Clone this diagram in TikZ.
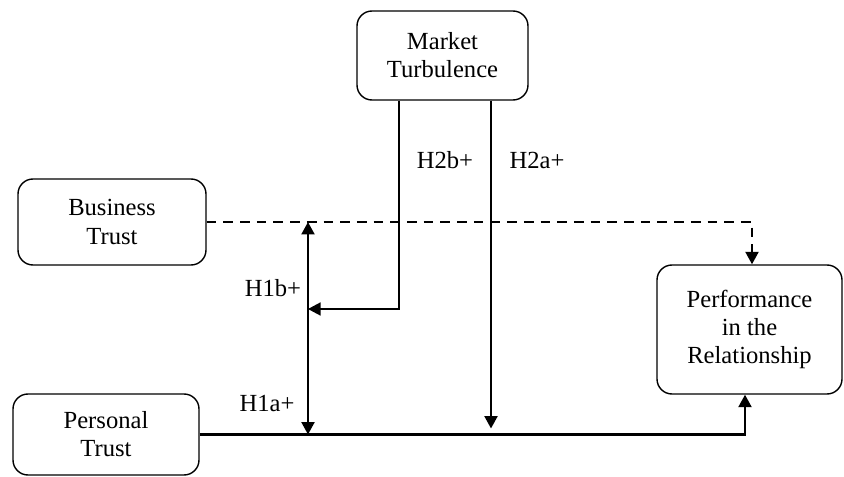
\documentclass[tikz,border=0pt]{standalone}
\usepackage{fontspec}
\setmainfont{Liberation Serif}
\usetikzlibrary{arrows.meta}

\begin{document}
\begin{tikzpicture}[
    >={Triangle[length=0.25cm,width=0.26cm]},
    box/.style={draw, rounded corners=0.3cm, line width=0.8pt, align=center,
      font=\fontsize{14}{16}\selectfont},
    link/.style={line width=1.3pt, ->},
    lbl/.style={font=\fontsize{14}{16}\selectfont}
  ]
    \useasboundingbox (0,0) rectangle (16.88,9.52);
    % the four constructs
    \node[box, minimum width=3.42cm, minimum height=1.78cm] (market) at (8.85,8.41) {Market\\Turbulence};
    \node[box, minimum width=3.76cm, minimum height=1.72cm] (business) at (2.24,5.08) {Business\\Trust};
    \node[box, minimum width=3.72cm, minimum height=1.62cm] (personal) at (2.12,0.83) {Personal\\Trust};
    \node[box, minimum width=3.7cm, minimum height=2.58cm] (perf) at (14.99,2.93) {Performance\\in the\\Relationship};

    \coordinate (h1top) at (6.16,5.08);
    \coordinate (h1bot) at (6.16,0.83);
    \coordinate (h1mid) at (6.16,3.34);
    \coordinate (h2end) at (9.82,0.95);

    \draw[link] (personal.east) -| ([xshift=-0.09cm]perf.south);
    \draw[link, dash pattern=on 5.5pt off 4pt] (business.east) -| ([xshift=0.05cm]perf.north);
    \draw[link, <->] (h1bot) -- (h1top);
    \draw[line width=0.8pt, ->] ([xshift=-0.87cm]market.south) |- (h1mid);
    \draw[link] ([xshift=0.97cm]market.south) -- (h2end);

    % hypothesis labels
    \node[lbl] (h2b) at (8.9,6.32) {H2b+};
    \node[lbl] (h2a) at (10.74,6.32) {H2a+};
    \node[lbl] (h1b) at (5.46,3.76) {H1b+};
    \node[lbl] (h1a) at (5.34,1.46) {H1a+};
\end{tikzpicture}
\end{document}
